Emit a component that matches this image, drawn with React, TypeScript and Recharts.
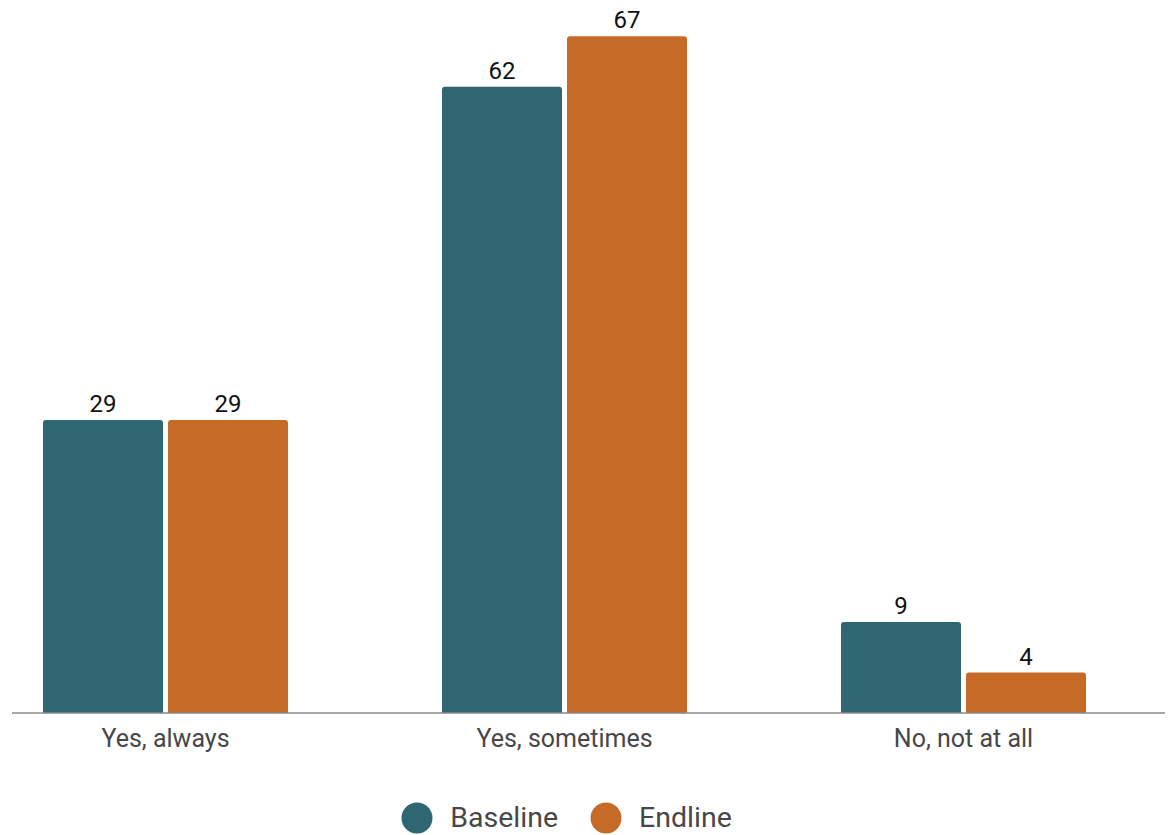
import React from "react";
import { BarChart, Bar, XAxis, YAxis, Legend, LabelList } from "recharts";

const categories = ["Yes, always", "Yes, sometimes", "No, not at all"];
const baseline = [29, 62, 9];
const endline = [29, 67, 4];
const seriesNames = ["Baseline", "Endline"];
const colors = ["#2E6671", "#C66A28"];

const data = categories.map((c, i) => ({ name: c, Baseline: baseline[i], Endline: endline[i] }));

const FONT = "Roboto, 'Noto Sans', sans-serif";

const LegendContent = (props: any) => {
  const payload = props.payload || [];
  return (
    <div style={{ height: 72, boxSizing: "border-box", paddingTop: 39, display: "flex", justifyContent: "center" }}>
      <div style={{ display: "flex", alignItems: "center", height: 32, transform: "translateX(-22px)" }}>
        {payload.map((p: any, i: number) => (
          <div key={i} style={{ display: "flex", alignItems: "center", marginRight: i < payload.length - 1 ? 32 : 0 }}>
            <svg width={32} height={32} style={{ marginRight: 17 }}>
              <circle cx={16} cy={16} r={15.5} fill={p.color} />
            </svg>
            <span style={{ fontFamily: FONT, fontSize: 28.5, color: "#474747", lineHeight: "32px" }}>{p.value}</span>
          </div>
        ))}
      </div>
    </div>
  );
};

export default function App() {
  return (
    <div style={{ position: "absolute", left: 0, top: 0 }}>
      <BarChart
        width={1173}
        height={835}
        data={data}
        margin={{ top: 6, left: 12, right: 8, bottom: 0 }}
        barSize={120}
        barGap={5}
      >
        <XAxis
          dataKey="name"
          height={50}
          padding={{ left: -46, right: 2 }}
          tickLine={false}
          tickMargin={10}
          axisLine={{ stroke: "#888", strokeWidth: 1.5 }}
          tick={{ fill: "#474747", fontSize: 25, fontFamily: FONT }}
          interval={0}
        />
        <YAxis hide domain={[0, 70]} />
        <Legend verticalAlign="bottom" content={<LegendContent />} />
        {seriesNames.map((s, i) => (
          <Bar key={s} dataKey={s} fill={colors[i]} radius={[3, 3, 0, 0]} isAnimationActive={false}>
            <LabelList dataKey={s} position="top" offset={8} fill="#111" fontSize={24} fontFamily={FONT} />
          </Bar>
        ))}
      </BarChart>
    </div>
  );
}
